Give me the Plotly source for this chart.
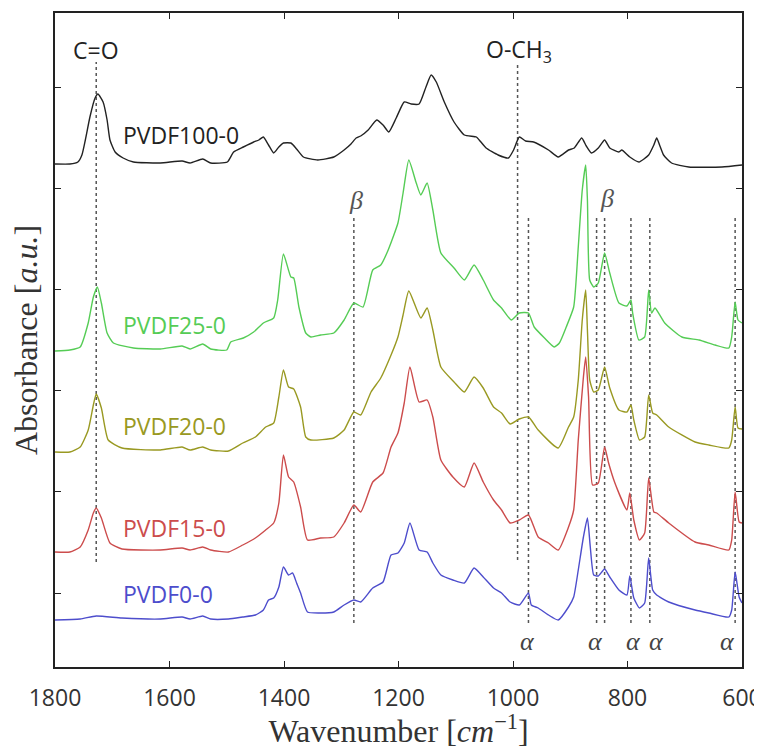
import plotly.graph_objects as go

# ---------------- data (wavenumber in cm^-1, absorbance in a.u., offset stacked) -------------
wn_pvdf100 = [1800, 1774, 1760, 1753, 1747, 1739, 1730, 1725, 1716, 1709, 1704, 1695, 1681, 1663,
              1616, 1578, 1564, 1542, 1528, 1499, 1488, 1471, 1453, 1444, 1436, 1427, 1418, 1409, 1401,
              1388, 1378, 1366, 1341, 1313, 1295, 1283, 1274, 1266, 1253, 1238, 1227, 1217, 1204, 1190,
              1178, 1164, 1152, 1143, 1134, 1120, 1103, 1085, 1064, 1059, 1047, 1026, 1008, 999, 989,
              978, 964, 938, 921, 903, 893, 880, 872, 863, 851, 840, 831, 815, 810, 796, 780, 763, 754,
              749, 744, 737, 723, 693, 635, 600]
abs_pvdf100 = [4.29, 4.29, 4.31, 4.38, 4.53, 4.76, 4.95, 4.99, 4.91, 4.73, 4.53, 4.41, 4.35, 4.31,
               4.30, 4.32, 4.30, 4.34, 4.30, 4.31, 4.41, 4.46, 4.51, 4.53, 4.56, 4.48, 4.40, 4.46, 4.50,
               4.50, 4.44, 4.36, 4.33, 4.36, 4.43, 4.49, 4.55, 4.57, 4.63, 4.73, 4.68, 4.61, 4.75, 4.91,
               4.89, 4.89, 5.06, 5.18, 5.11, 4.91, 4.71, 4.58, 4.56, 4.53, 4.45, 4.38, 4.35, 4.43, 4.56,
               4.52, 4.51, 4.43, 4.36, 4.43, 4.45, 4.55, 4.47, 4.40, 4.45, 4.53, 4.45, 4.41, 4.43, 4.36,
               4.31, 4.38, 4.48, 4.55, 4.48, 4.38, 4.30, 4.26, 4.26, 4.28]

wn_pvdf25 = [1800, 1774, 1756, 1742, 1733, 1726, 1719, 1709, 1698, 1663, 1616, 1578, 1564, 1542,
             1528, 1500, 1493, 1471, 1453, 1436, 1418, 1411, 1401, 1388, 1383, 1374, 1362, 1353, 1336,
             1313, 1295, 1278, 1262, 1245, 1231, 1218, 1201, 1192, 1182, 1169, 1161, 1150, 1140, 1126,
             1103, 1085, 1068, 1052, 1034, 1020, 1003, 989, 973, 963, 945, 928, 919, 907, 894, 886, 879,
             873, 870, 866, 859, 851, 840, 831, 815, 801, 794, 791, 780, 770, 763, 758, 752, 735, 705,
             675, 647, 623, 618, 612, 607, 600]
abs_pvdf25 = [2.42, 2.43, 2.46, 2.70, 2.96, 3.06, 2.90, 2.60, 2.50, 2.45, 2.44, 2.47, 2.44, 2.49,
              2.44, 2.43, 2.51, 2.55, 2.61, 2.70, 2.75, 2.93, 3.39, 3.16, 3.15, 2.86, 2.60, 2.56, 2.58,
              2.60, 2.73, 2.90, 2.86, 3.23, 3.28, 3.43, 3.70, 4.00, 4.33, 4.10, 3.98, 4.10, 3.83, 3.40,
              3.25, 3.13, 3.28, 3.13, 2.93, 2.85, 2.73, 2.80, 2.80, 2.66, 2.55, 2.46, 2.50, 2.66, 2.86,
              3.46, 4.03, 4.28, 3.93, 3.13, 3.06, 3.10, 3.40, 3.20, 2.90, 2.87, 2.93, 2.80, 2.53, 2.56,
              3.03, 2.80, 2.85, 2.70, 2.56, 2.53, 2.48, 2.45, 2.56, 2.91, 2.73, 2.70]

wn_pvdf20 = [1800, 1774, 1756, 1742, 1733, 1728, 1719, 1707, 1683, 1616, 1578, 1564, 1542, 1528,
             1497, 1472, 1450, 1432, 1418, 1409, 1401, 1392, 1383, 1371, 1362, 1353, 1313, 1295, 1278,
             1266, 1248, 1231, 1213, 1201, 1192, 1182, 1161, 1150, 1140, 1126, 1103, 1085, 1068, 1052,
             1034, 1020, 1005, 989, 973, 956, 921, 903, 894, 886, 879, 873, 870, 866, 859, 851, 840, 831,
             815, 801, 794, 789, 779, 770, 763, 756, 749, 728, 682, 658, 623, 618, 612, 607, 600]
abs_pvdf20 = [1.41, 1.41, 1.46, 1.63, 1.88, 1.99, 1.85, 1.53, 1.45, 1.43, 1.46, 1.43, 1.46, 1.43,
              1.42, 1.50, 1.56, 1.66, 1.70, 1.96, 2.23, 2.06, 2.04, 1.86, 1.56, 1.53, 1.55, 1.63, 1.81,
              1.78, 2.01, 2.15, 2.38, 2.56, 2.78, 3.02, 2.75, 2.85, 2.63, 2.26, 2.11, 2.01, 2.16, 2.05,
              1.86, 1.80, 1.69, 1.74, 1.76, 1.63, 1.45, 1.66, 1.76, 2.13, 2.73, 3.03, 2.63, 2.13, 2.01,
              2.03, 2.26, 2.05, 1.83, 1.81, 1.88, 1.73, 1.53, 1.56, 1.98, 1.80, 1.78, 1.66, 1.51, 1.48,
              1.45, 1.53, 1.86, 1.65, 1.64]

wn_pvdf15 = [1800, 1774, 1756, 1742, 1733, 1728, 1719, 1704, 1683, 1616, 1578, 1564, 1542, 1528,
             1497, 1472, 1450, 1432, 1418, 1409, 1401, 1392, 1383, 1371, 1359, 1336, 1313, 1295, 1278,
             1266, 1245, 1227, 1213, 1201, 1190, 1180, 1164, 1150, 1140, 1126, 1105, 1085, 1068, 1052,
             1034, 1020, 1005, 989, 973, 956, 938, 921, 903, 894, 886, 877, 873, 868, 861, 851, 840, 833,
             822, 801, 796, 789, 779, 770, 763, 754, 749, 728, 682, 658, 623, 618, 612, 605, 600]
abs_pvdf15 = [0.41, 0.41, 0.46, 0.63, 0.80, 0.85, 0.75, 0.50, 0.44, 0.43, 0.45, 0.43, 0.46, 0.43,
              0.41, 0.48, 0.55, 0.63, 0.70, 0.90, 1.38, 1.16, 1.11, 0.86, 0.53, 0.55, 0.56, 0.70, 0.88,
              0.81, 1.11, 1.20, 1.46, 1.60, 1.90, 2.26, 1.91, 1.93, 1.76, 1.33, 1.16, 1.06, 1.30, 1.11,
              0.93, 0.83, 0.70, 0.73, 0.78, 0.56, 0.50, 0.43, 0.66, 0.83, 1.53, 2.16, 2.36, 1.96, 1.08,
              1.10, 1.46, 1.30, 1.10, 0.83, 1.00, 0.73, 0.53, 0.60, 1.15, 0.81, 0.80, 0.70, 0.51, 0.48,
              0.43, 0.53, 1.01, 0.71, 0.70]

wn_pvdf0 = [1800, 1756, 1728, 1683, 1616, 1578, 1564, 1542, 1528, 1497, 1472, 1450, 1436, 1427, 1418,
            1409, 1401, 1392, 1385, 1378, 1371, 1359, 1336, 1313, 1295, 1278, 1266, 1245, 1227, 1213,
            1201, 1190, 1180, 1164, 1150, 1140, 1126, 1105, 1085, 1068, 1052, 1034, 1020, 1005, 989,
            973, 968, 956, 938, 921, 903, 894, 886, 877, 870, 865, 859, 851, 840, 831, 815, 801, 796,
            789, 779, 770, 763, 756, 749, 728, 682, 658, 623, 618, 612, 605, 600]
abs_pvdf0 = [-0.27, -0.26, -0.23, -0.25, -0.26, -0.24, -0.26, -0.23, -0.26, -0.26, -0.24, -0.22, -0.17,
             -0.07, -0.05, 0.06, 0.26, 0.18, 0.20, 0.10, 0.00, -0.19, -0.20, -0.19, -0.12, -0.07, -0.09,
             0.05, 0.11, 0.38, 0.40, 0.50, 0.70, 0.43, 0.41, 0.30, 0.18, 0.13, 0.10, 0.25, 0.16, 0.05,
             0.00, -0.09, -0.12, 0.00, -0.12, -0.15, -0.22, -0.27, -0.14, -0.04, 0.23, 0.56, 0.75, 0.46,
             0.18, 0.17, 0.24, 0.16, 0.03, -0.02, 0.17, -0.05, -0.15, -0.10, 0.35, 0.03, -0.02, -0.09,
             -0.17, -0.20, -0.24, -0.17, 0.21, -0.04, -0.10]

series_names = ["PVDF100-0", "PVDF25-0", "PVDF20-0", "PVDF15-0", "PVDF0-0"]
series_colors = ["#222222", "#55cc55", "#999922", "#cc4c4c", "#4d4dcc"]
label_y = [4.58, 2.68, 1.67, 0.65, -0.01]
label_wn = 1684

# band marker lines: position, top, bottom
band_wn = [1728, 992, 1278, 973, 854, 840, 794, 761, 612]
band_top = [5.31, 5.31, 3.77, 3.76, 3.76, 3.76, 3.76, 3.76, 3.76]
band_bottom = [0.31, 0.33, -0.30, -0.30, -0.30, -0.30, -0.30, -0.30, -0.30]

group_labels = ["C=O", "O-CH<sub>3</sub>"]
group_wn = [1728, 990]
group_y = [5.43, 5.43]

beta_wn = [1275, 835]
beta_y = [3.93, 3.95]
alpha_wn = [975, 856, 789, 749, 625]
alpha_y = -0.48

x_ticks = [1800, 1600, 1400, 1200, 1000, 800, 600]
y_ticks = [0, 1.012, 2.024, 3.036, 4.048, 5.06]

# ---------------- figure ----------------
xs = [wn_pvdf100, wn_pvdf25, wn_pvdf20, wn_pvdf15, wn_pvdf0]
ys = [abs_pvdf100, abs_pvdf25, abs_pvdf20, abs_pvdf15, abs_pvdf0]

fig = go.Figure()
for name, col, x, y in zip(series_names, series_colors, xs, ys):
    fig.add_trace(go.Scatter(x=x, y=y, mode="lines", name=name,
                             line=dict(color=col, width=1.4, shape="spline", smoothing=0.5),
                             showlegend=False))

for w, t, b in zip(band_wn, band_top, band_bottom):
    fig.add_shape(type="line", xref="x", yref="y", x0=w, x1=w, y0=b, y1=t,
                  line=dict(color="#555555", width=1.5, dash="dot"), layer="below")

sans = "Open Sans, Noto Sans, sans-serif"
serif = "Liberation Serif, DejaVu Serif, serif"

for name, col, yy in zip(series_names, series_colors, label_y):
    fig.add_annotation(x=label_wn, y=yy, text=name, showarrow=False, xanchor="left", yanchor="middle",
                       font=dict(family=sans, size=23, color=col))

for t, w, yy in zip(group_labels, group_wn, group_y):
    fig.add_annotation(x=w, y=yy, text=t, showarrow=False, xanchor="center", yanchor="middle",
                       font=dict(family=sans, size=23, color="#222222"))

for w, yy in zip(beta_wn, beta_y):
    fig.add_annotation(x=w, y=yy, text="<i>β</i>", showarrow=False, xanchor="center", yanchor="middle",
                       font=dict(family=serif, size=26, color="#555555"))
for w in alpha_wn:
    fig.add_annotation(x=w, y=alpha_y, text="<i>α</i>", showarrow=False, xanchor="center", yanchor="middle",
                       font=dict(family=serif, size=26, color="#444444"))

# the page body adds an 8 px offset, so the figure is placed at (8, 8)
fig.update_layout(
    width=754, height=741,
    margin=dict(l=47, r=20, t=5, b=82),
    paper_bgcolor="white", plot_bgcolor="white",
    xaxis=dict(range=[1800, 600], tickvals=x_ticks, ticktext=[str(v) for v in x_ticks],
               ticks="inside", ticklen=6, tickwidth=1.3, tickcolor="#222222",
               showline=True, linecolor="#222222", linewidth=1.5, mirror="ticks",
               showgrid=False, zeroline=False, automargin=False,
               ticklabelstandoff=10, ticklabeloverflow="allow",
               tickfont=dict(family=sans, size=23, color="#333333"),
               title=dict(text="Wavenumber [<i>cm</i><sup>−1</sup>]",
                          font=dict(family=serif, size=32, color="#333333"), standoff=6)),
    yaxis=dict(range=[-0.74, 5.80], tickvals=y_ticks, showticklabels=False,
               ticks="inside", ticklen=6, tickwidth=1.3, tickcolor="#222222",
               showline=True, linecolor="#222222", linewidth=1.5, mirror="ticks",
               showgrid=False, zeroline=False, automargin=False,
               title=dict(text="Absorbance [<i>a.u.</i>]",
                          font=dict(family=serif, size=32, color="#333333"), standoff=8)),
)

fig.write_html("out.html")
